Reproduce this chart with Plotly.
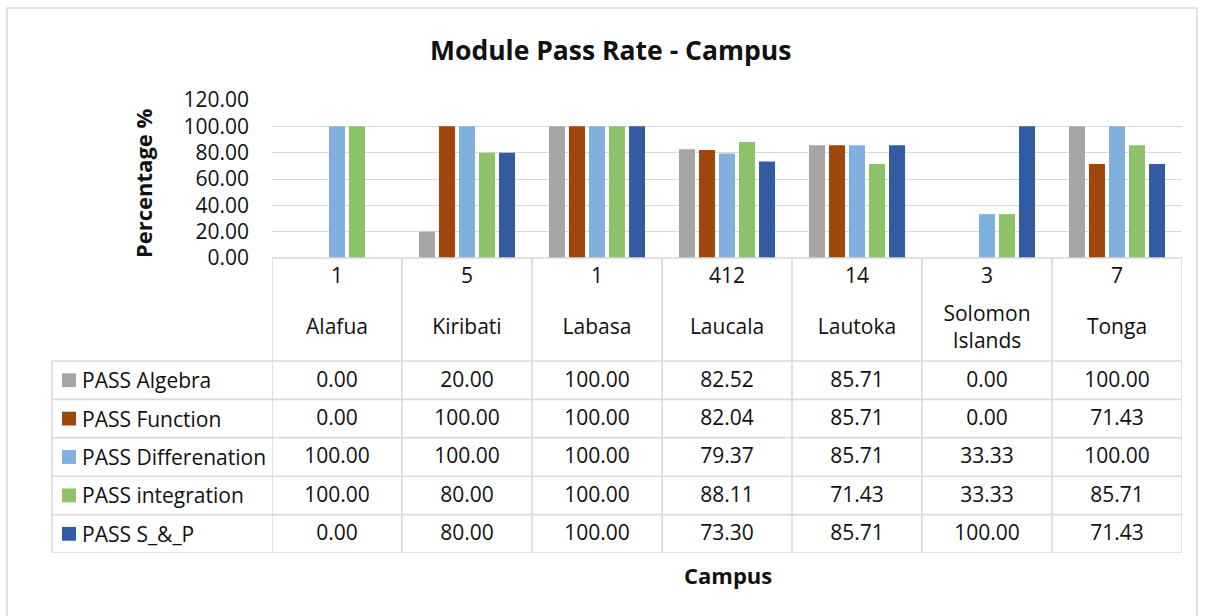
import plotly.graph_objects as go

# datos
campus = ["Alafua", "Kiribati", "Labasa", "Laucala", "Lautoka", "Solomon Islands", "Tonga"]
campus_labels = ["Alafua", "Kiribati", "Labasa", "Laucala", "Lautoka", "Solomon<br>Islands", "Tonga"]
counts = [1, 5, 1, 412, 14, 3, 7]

series_names = ["PASS Algebra", "PASS Function", "PASS Differenation", "PASS integration", "PASS S_&_P"]
pass_algebra = [0.00, 20.00, 100.00, 82.52, 85.71, 0.00, 100.00]
pass_function = [0.00, 100.00, 100.00, 82.04, 85.71, 0.00, 71.43]
pass_diff = [100.00, 100.00, 100.00, 79.37, 85.71, 33.33, 100.00]
pass_integration = [100.00, 80.00, 100.00, 88.11, 71.43, 33.33, 85.71]
pass_sp = [0.00, 80.00, 100.00, 73.30, 85.71, 100.00, 71.43]

y_ticks = [0, 20, 40, 60, 80, 100, 120]

COLORS = ["#A5A5A5", "#9E480E", "#7FB0DE", "#8DC26A", "#325BA2"]
FONT = "Open Sans"
TXT = "#111111"
LINE = "#D9D9D9"
FS = 21

W, H = 1206, 616


def px(x):
    return x / W


def py(y):
    return 1 - y / H


# tabla: filas en unidades, fila i centrada en i
ROW_H = 38.4
ROW0_TOP = 361


def ru(y):
    return (y - ROW0_TOP) / ROW_H - 0.5


values = [pass_algebra, pass_function, pass_diff, pass_integration, pass_sp]

fig = go.Figure()

for name, vals, color in zip(series_names, values, COLORS):
    fig.add_trace(go.Bar(
        x=campus, y=vals, name=name,
        marker=dict(color=color, line=dict(width=0)),
        xaxis="x", yaxis="y",
    ))

# fila de conteos y nombres
fig.add_trace(go.Scatter(
    x=campus, y=[ru(278)] * len(campus), text=[str(c) for c in counts],
    mode="text", textfont=dict(family=FONT, size=FS, color=TXT),
    xaxis="x", yaxis="y2", cliponaxis=False, showlegend=False,
))
fig.add_trace(go.Scatter(
    x=campus, y=[ru(329)] * len(campus), text=campus_labels,
    mode="text", textfont=dict(family=FONT, size=FS, color=TXT),
    xaxis="x", yaxis="y2", cliponaxis=False, showlegend=False,
))

# valores de la tabla
for i, vals in enumerate(values):
    fig.add_trace(go.Scatter(
        x=campus, y=[i + 0.03] * len(campus), text=[f"{v:.2f}" for v in vals],
        mode="text", textfont=dict(family=FONT, size=FS, color=TXT),
        xaxis="x", yaxis="y2", cliponaxis=False, showlegend=False,
    ))

shapes = []
annotations = []

# lineas de la tabla
line = dict(color=LINE, width=1.6)
shapes.append(dict(type="line", xref="paper", yref="paper",
                   x0=px(272), x1=px(1182), y0=py(258), y1=py(258), line=line))
for k in range(6):
    shapes.append(dict(type="line", xref="paper", yref="y2",
                       x0=px(52), x1=px(1182), y0=k - 0.5, y1=k - 0.5, line=line))
shapes.append(dict(type="line", xref="paper", yref="y2",
                   x0=px(52), x1=px(52), y0=-0.5, y1=4.5, line=line))
for k in range(len(campus) + 1):
    shapes.append(dict(type="line", xref="x", yref="y2",
                       x0=k - 0.5, x1=k - 0.5, y0=ru(258), y1=4.5, line=line))

# leyenda dentro de la tabla
for i, (name, color) in enumerate(zip(series_names, COLORS)):
    shapes.append(dict(type="rect", xref="paper", yref="y2",
                       x0=px(62), x1=px(76), y0=i - 0.18, y1=i + 0.18,
                       fillcolor=color, line=dict(width=0)))
    annotations.append(dict(text=name, xref="paper", yref="y2", x=px(80), y=i,
                            xanchor="left", yanchor="middle", showarrow=False,
                            font=dict(family=FONT, size=FS, color=TXT)))

# borde exterior
shapes.append(dict(type="rect", xref="paper", yref="paper",
                   x0=px(7), x1=px(1197), y0=-0.02, y1=py(8),
                   line=dict(color=LINE, width=1.5), layer="below"))

annotations += [
    dict(text="<b>Module Pass Rate - Campus</b>", xref="paper", yref="paper",
         x=px(610), y=py(50), showarrow=False, xanchor="center", yanchor="middle",
         font=dict(family=FONT, size=26.5, color=TXT)),
    dict(text="<b>Percentage %</b>", xref="paper", yref="paper", textangle=-90,
         x=px(143), y=py(183), showarrow=False, xanchor="center", yanchor="middle",
         font=dict(family=FONT, size=22, color=TXT)),
    dict(text="<b>Campus</b>", xref="paper", yref="paper",
         x=px(728), y=py(575), showarrow=False, xanchor="center", yanchor="middle",
         font=dict(family=FONT, size=22, color=TXT)),
]

fig.update_layout(
    width=W, height=H,
    margin=dict(l=0, r=0, t=0, b=0, autoexpand=False),
    paper_bgcolor="white", plot_bgcolor="white",
    showlegend=False,
    barmode="group", bargap=0.23, bargroupgap=0.2,
    xaxis=dict(type="category", categoryarray=campus, range=[-0.5, len(campus) - 0.5],
               domain=[px(272), px(1182)], showticklabels=False, showgrid=False,
               showline=False, zeroline=False, anchor="y", automargin=False),
    yaxis=dict(range=[0, 120], domain=[py(258), py(100)], tickvals=y_ticks,
               tickformat=".2f", showgrid=True, gridcolor=LINE, gridwidth=1.4,
               zeroline=False, showline=False, ticks="", ticklabelstandoff=22,
               tickfont=dict(family=FONT, size=FS, color=TXT), anchor="x",
               automargin=False),
    yaxis2=dict(range=[4.5, ru(258)], domain=[py(553), py(258)], visible=False,
                anchor="x", fixedrange=True, automargin=False),
    shapes=shapes,
    annotations=annotations,
)

fig.write_html("out.html", config={"displayModeBar": False},
               post_script="document.body.style.margin='0px';")
